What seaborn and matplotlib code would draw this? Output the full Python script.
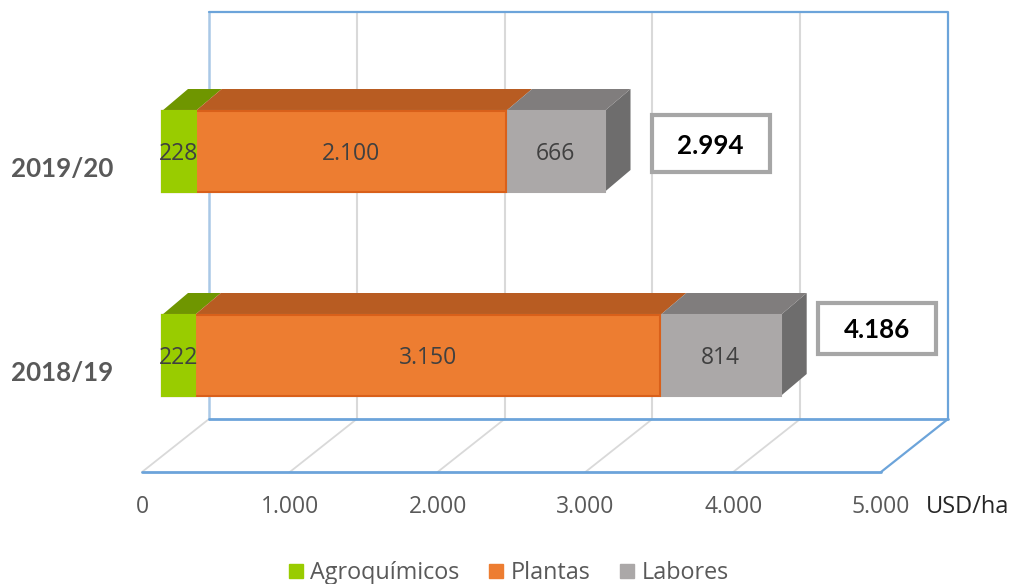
import matplotlib
matplotlib.use("Agg")
import matplotlib.pyplot as plt
import numpy as np
import pandas as pd
import seaborn as sns
from matplotlib.patches import Polygon, Rectangle
from matplotlib.lines import Line2D

seasons = ["2019/20", "2018/19"]
series_names = ["Agroquímicos", "Plantas", "Labores"]
agroquimicos = [228, 222]
plantas = [2100, 3150]
labores = [666, 814]
totals = ["2.994", "4.186"]
tick_values = [0, 1000, 2000, 3000, 4000, 5000]
tick_labels = ["0", "1.000", "2.000", "3.000", "4.000", "5.000"]
unit = "USD/ha"

front = ["#99CC00", "#ED7D31", "#ABA8A8"]
top = ["#6F9600", "#B85C22", "#807D7D"]
side = ["#7DA600", "#B85C22", "#6E6D6D"]
edge = ["#99CC00", "#D9601A", "#ABA8A8"]

W, H = 1015, 584
sns.set_theme(style="white")
plt.rcParams["font.family"] = ["Open Sans", "DejaVu Sans"]
fig = plt.figure(figsize=(W / 100, H / 100), dpi=100)
ax = fig.add_axes([0, 0, 1, 1])

PX = 0.1478           # pixels per USD/ha
Y_STEP = 204.0        # pixels per category
X0 = 162.0            # pixel of bar zero
Y0 = 151.5            # pixel of first category
df = pd.DataFrame({"season": seasons, "a": agroquimicos, "p": plantas, "l": labores})
df["c1"] = df["a"]
df["c2"] = df["a"] + df["p"]
df["c3"] = df["c2"] + df["l"]

BAR_H = 81 / Y_STEP
for col, fc, ec in [("c3", front[2], edge[2]), ("c2", front[1], edge[1]), ("c1", front[0], edge[0])]:
    sns.barplot(data=df, y="season", x=col, order=seasons, color=fc, saturation=1,
                width=BAR_H, ax=ax, edgecolor=ec, linewidth=1.5, zorder=5)

ax.set_xlim(-X0 / PX, (W - X0) / PX)
ax.set_ylim((H - Y0) / Y_STEP, -Y0 / Y_STEP)
ax.axis("off")

ux = 1 / PX
uy = 1 / Y_STEP
def dx(p): return p * ux
def dy(p): return p * uy

floor_off = dx(-20)
depth_x, depth_y = dx(67), dy(-53)
front_y = (472 - Y0) * uy
wall_top = (12 - Y0) * uy
xmax = tick_values[-1]

bl = "#6CA4DA"
gr = "#D9D9D9"
for v in tick_values:
    x = v + floor_off
    if 0 < v < xmax:
        ax.plot([x + depth_x] * 2, [wall_top, front_y + depth_y], color=gr, lw=1.5, zorder=1)
    if v < xmax:
        ax.plot([x, x + depth_x], [front_y, front_y + depth_y], color=gr, lw=1.3, zorder=1)
x_l, x_r = floor_off + depth_x, xmax + floor_off + depth_x
by = front_y + depth_y
ax.plot([x_l, x_l], [by, wall_top], color="#A9C8E6", lw=1.8, zorder=2)
ax.plot([x_l, x_r, x_r], [wall_top, wall_top, by], color=bl, lw=1.6, zorder=2)
ax.plot([x_l, x_r], [by, by], color=bl, lw=2, zorder=2)
ax.plot([x_r, xmax + floor_off], [by, front_y], color=bl, lw=1.6, zorder=2)
ax.plot([floor_off, xmax + floor_off], [front_y, front_y], color=bl, lw=2, zorder=2)

ddx, ddy = dx(26), dy(-22)
box_gap = [47, 37]
box_h = [57, 51]
box_dy = [-8, -27]
for i, row in df.iterrows():
    yt = i - BAR_H / 2
    yb = i + BAR_H / 2
    starts = [0, row["c1"], row["c2"]]
    ends = [row["c1"], row["c2"], row["c3"]]
    for k in range(3):
        s, e = starts[k], ends[k]
        ax.add_patch(Polygon([(s, yt), (e, yt), (e + ddx, yt + ddy), (s + ddx, yt + ddy)],
                             closed=True, fc=top[k], ec="none", zorder=4 + k * 0.1))
    e = row["c3"]
    ax.add_patch(Polygon([(e, yt), (e + ddx, yt + ddy), (e + ddx, yb + ddy), (e, yb)],
                         closed=True, fc=side[2], ec="none", zorder=4))
    vals = [row["a"], row["p"], row["l"]]
    for k in range(3):
        txt = f"{vals[k]:,}".replace(",", ".")
        ax.text((starts[k] + ends[k]) / 2, i + dy(3), txt, ha="center", va="center",
                fontsize=16.5, color="#404040", zorder=7)
    ax.text(dx(113 - X0), i + dy(17), row["season"], ha="right", va="center", fontsize=18.6,
            fontweight="bold", color="#595959", family=["Lato", "DejaVu Sans"])
    bx = e + dx(box_gap[i])
    bw = dx(118)
    bh = dy(box_h[i])
    cy = i + dy(box_dy[i])
    ax.add_patch(Rectangle((bx, cy - bh / 2), bw, bh, fc="white", ec="#A6A6A6", lw=3, zorder=8))
    ax.text(bx + bw / 2, cy + dy(2), totals[i], ha="center", va="center",
            fontsize=18.6, fontweight="bold", color="black", zorder=9,
            family=["Lato", "DejaVu Sans"])

for v, t in zip(tick_values, tick_labels):
    ax.text(v + floor_off, (507 - Y0) * uy, t, ha="center", va="center", fontsize=16.5, color="#595959")
ax.text(dx(968 - X0), (507 - Y0) * uy, unit, ha="center", va="center", fontsize=17, color="#262626")

handles = [Line2D([], [], marker="s", ls="none", ms=10, color=c) for c in front]
ax.legend(handles, series_names, loc="center", bbox_to_anchor=(507 / W, 1 - 573 / H), ncol=3,
          frameon=False, fontsize=16.8, handlelength=0.9, handletextpad=0.17, columnspacing=1.13,
          labelcolor="#595959", bbox_transform=fig.transFigure)

fig.savefig("out.png", dpi=100)
